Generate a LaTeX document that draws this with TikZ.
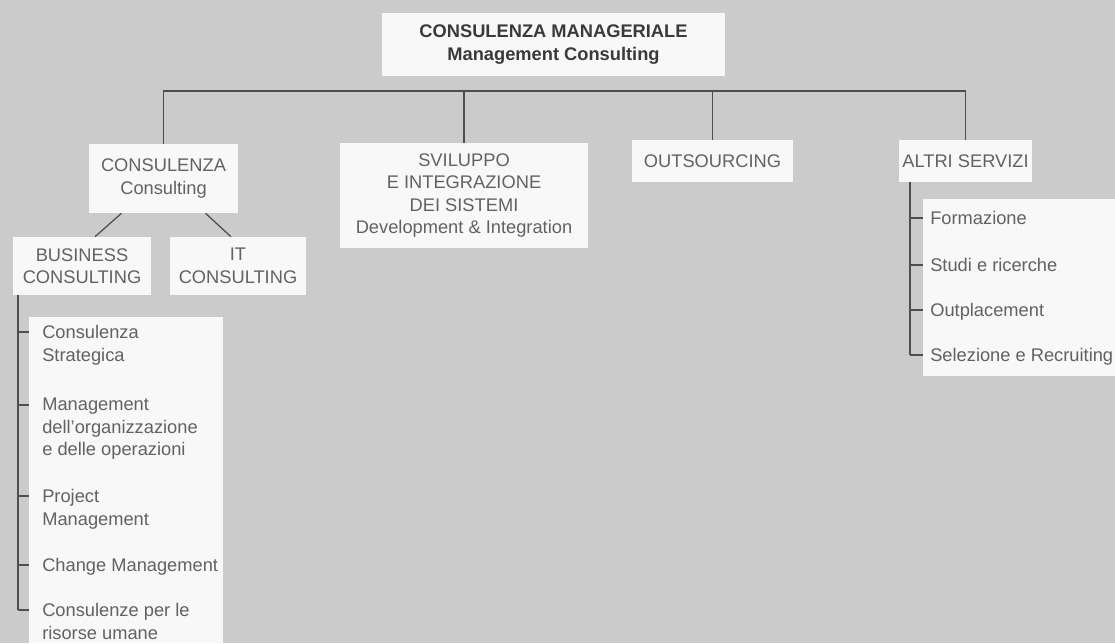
\documentclass[tikz,border=0pt]{standalone}
\usepackage{fontspec}
\setmainfont{Liberation Sans}
\usepackage{xcolor}
\usepackage{tikz}
\usetikzlibrary{positioning, calc}

\definecolor{paper}{RGB}{203,203,203}
\definecolor{boxwhite}{RGB}{248,248,248}
\definecolor{ink}{RGB}{98,98,98}
\definecolor{inkdark}{RGB}{58,58,58}
\definecolor{rule}{RGB}{78,78,78}

\begin{document}
\begin{tikzpicture}[
  x=0.025cm, y=-0.025cm,
  font=\fontsize{13pt}{16pt}\selectfont,
  box/.style={fill=boxwhite, align=center, text=ink, inner sep=0pt},
  topbox/.style={box, text=inkdark,
    font=\fontsize{13pt}{16.4pt}\selectfont\bfseries},
  listbox/.style={fill=boxwhite, inner sep=0pt},
  item/.style={anchor=north west, align=left, text=ink, inner sep=0pt},
  link/.style={draw=rule, line width=0.9pt},
]
  \fill[paper] (0,0) rectangle (1115,643);
  \useasboundingbox (0,0) rectangle (1115,643);

  \node[topbox, minimum width=8.575cm, minimum height=1.575cm] (mgmt)
    at (553.5,44.5) {CONSULENZA MANAGERIALE\\Management Consulting};

  \node[box, minimum width=3.725cm, minimum height=1.725cm] (cons)
    at (163.5,178.5) {CONSULENZA\\Consulting};
  \node[box, minimum width=6.2cm, minimum height=2.625cm] (svil)
    at (464,195.5) {SVILUPPO\\E INTEGRAZIONE\\DEI SISTEMI\\Development \& Integration};
  \node[box, minimum width=4.025cm, minimum height=1.05cm] (outs)
    at (712.5,161) {OUTSOURCING};
  \node[box, minimum width=3.325cm, minimum height=1.05cm] (altri)
    at (965.5,161) {ALTRI SERVIZI};

  \node[box, minimum width=3.45cm, minimum height=1.45cm] (biz)
    at (82,266) {BUSINESS\\CONSULTING};
  \node[box, minimum width=3.4cm, minimum height=1.45cm] (itc)
    at (238,266) {IT\\CONSULTING};

  % white panels behind the two lists
  \node[listbox, minimum width=4.85cm, minimum height=8.15cm] (bizlist) at (126,480) {};
  \node[listbox, minimum width=4.8cm, minimum height=4.425cm] (altrilist) at (1019,287.5) {};

  % tree
  \coordinate (bus) at (553.5,91);
  \draw[link] (cons.north) |- (bus) -| (altri.north);
  \foreach \n in {svil, outs}
    \draw[link] (\n.north) -- (\n.north |- bus);
  \draw[link] ($(cons.south)+(-42,0)$) -- ($(biz.north)+(13,0)$);
  \draw[link] ($(cons.south)+(42,0)$) -- ($(itc.north)+(-7,0)$);

  % business consulting list
  \foreach \y/\txt [count=\i] in {332/{Consulenza\\Strategica},
      405/{Management\\dell'organizzazione\\e delle operazioni},
      496/{Project\\Management}, 565/{Change Management},
      610/{Consulenze per le\\risorse umane}} {
    \coordinate (bt\i) at (18,\y);
    \node[item] (b\i) at (42,\y-7) {\txt};
  }
  \draw[link] (biz.south -| bt1) -- (bt5);
  \foreach \i in {1,...,5}
    \draw[link] (bt\i) -- (bt\i -| bizlist.west);

  % altri servizi list
  \foreach \y/\txt [count=\i] in {218/Formazione, 265/Studi e ricerche,
      310/Outplacement, 355/Selezione e Recruiting} {
    \coordinate (at\i) at (910,\y);
    \node[item] (s\i) at (930,\y-7) {\txt};
  }
  \draw[link] (altri.south -| at1) -- (at4);
  \foreach \i in {1,...,4}
    \draw[link] (at\i) -- (at\i -| altrilist.west);
\end{tikzpicture}
\end{document}
